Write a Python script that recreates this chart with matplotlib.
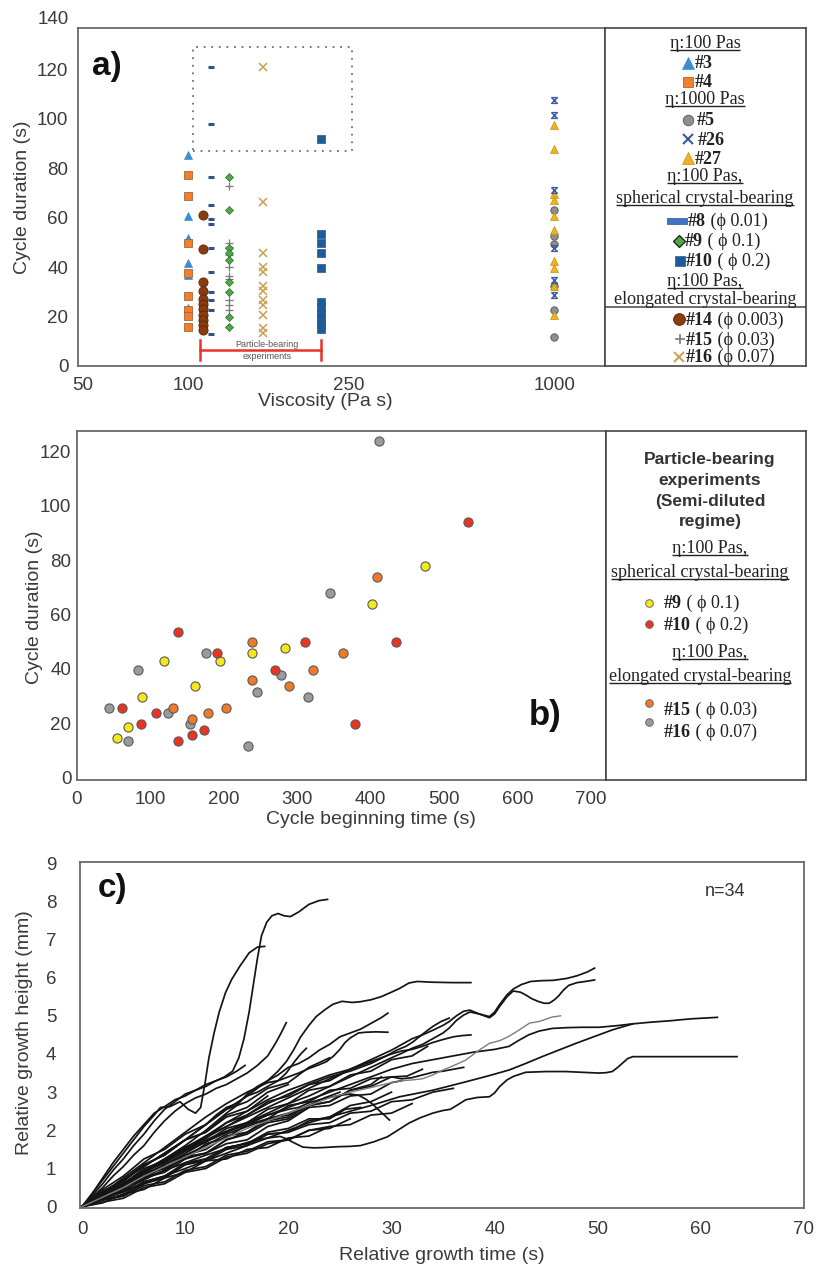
import matplotlib
matplotlib.use('Agg')
import matplotlib.pyplot as plt
from matplotlib.path import Path
from matplotlib.patches import Rectangle
import matplotlib.transforms as mtransforms

plt.rcParams['font.family'] = ['Liberation Sans', 'DejaVu Sans']

# ---------------- Panel a data (cycle duration, s) ----------------
VISC_TICK_LABELS = ['50', '100', '250', '1000']
EXP3_100 = [85.2, 60.8, 51.7, 41.7, 37.0, 23.5]
EXP4_100 = [77.4, 68.7, 49.7, 37.7, 28.4, 22.5, 20.2, 15.6]
EXP5_1000 = [63.0, 52.5, 49.5, 32.5, 22.5, 11.8]
EXP26_1000 = [107.4, 101.7, 71.1, 47.6, 34.9, 28.6]
EXP27_1000 = [97.3, 87.6, 69.5, 67.3, 60.5, 55.0, 42.4, 39.5, 32.5, 20.5]
EXP8 = [121.0, 97.7, 76.6, 65.2, 59.5, 57.3, 47.6, 38.0, 30.0, 26.5, 22.7, 12.9]
EXP9 = [76.6, 63.0, 47.6, 45.5, 43.0, 34.0, 30.0, 19.8, 15.6]
EXP10 = [91.9, 53.2, 49.6, 45.6, 39.8, 26.0, 24.0, 21.2, 19.2, 17.0, 15.0]
EXP14 = [61.0, 47.5, 34.0, 30.2, 27.2, 25.0, 23.0, 20.8, 18.5, 16.4, 14.4]
EXP15 = [72.6, 49.6, 48.0, 44.7, 40.2, 36.2, 35.0, 26.6, 24.5, 22.5]
EXP16 = [121.0, 66.5, 45.5, 40.0, 38.0, 32.4, 30.5, 26.6, 24.8, 20.6, 15.2, 13.2]

# ---------------- Panel b data ----------------
B_X_09 = [53.9, 69.3, 88.3, 117.8, 161.2, 194.3, 238.2, 283.5, 402.2, 474.2]
B_Y_09 = [14.6, 18.6, 29.7, 42.7, 33.6, 42.7, 45.7, 47.6, 63.8, 77.8]
B_X_10 = [61.6, 87.4, 107.3, 137.2, 137.2, 156.7, 173.5, 191.1, 269.9, 310.2, 378.6, 433.9, 531.8]
B_Y_10 = [25.6, 19.6, 23.6, 53.7, 13.5, 15.5, 17.6, 45.7, 39.6, 49.7, 19.6, 49.7, 93.9]
B_X_15 = [130.4, 156.7, 178.9, 202.9, 238.7, 238.7, 288.5, 322.0, 362.3, 408.0]
B_Y_15 = [25.6, 21.5, 23.6, 25.6, 49.7, 35.7, 33.6, 39.6, 45.7, 73.7]
B_X_16 = [43.5, 69.3, 83.3, 123.6, 154.4, 175.3, 232.3, 244.6, 277.2, 314.8, 344.2, 411.7]
B_Y_16 = [25.6, 13.5, 39.6, 23.6, 19.6, 45.7, 11.6, 31.6, 37.7, 29.7, 67.8, 123.9]

# ---------------- Panel c data: (time s, height mm) per growth curve ----------------
GROWTH_CURVES = [
    [(0,0),(1,0.3),(2,0.6),(3,0.95),(4,1.25),(5,1.6),(6,1.9),(7,2.25),(8,2.55),(9,2.75),(10,2.95),(11,3.05),(12,3.15),(13,3.3),(13.8,3.4),(14.6,3.55),(15.2,3.9),(15.7,4.4),(16.2,5.1),(16.6,5.8),(17.0,6.5),(17.4,7.1),(17.9,7.45),(18.4,7.62),(19.0,7.68),(19.6,7.62),(20.2,7.6),(21.0,7.72),(22.0,7.92),(23.0,8.02),(23.8,8.05)],
    [(0,0),(1,0.35),(2,0.7),(3,1.05),(4,1.4),(5,1.75),(6,2.1),(7,2.4),(7.6,2.6),(8.5,2.62),(9.5,2.75),(10.3,2.55),(11.0,2.45),(11.5,2.6),(11.9,3.2),(12.3,3.9),(12.8,4.55),(13.3,5.1),(13.9,5.6),(14.5,5.95),(15.3,6.3),(16.2,6.65),(17.0,6.8),(17.7,6.82)],
    [(0,0),(1,0.25),(2,0.5),(3,0.8),(4,1.05),(5,1.35),(6,1.6),(7,1.95),(8,2.25),(9,2.5),(10,2.7),(11,2.85),(12,2.95),(13,3.1),(14,3.2),(15,3.35),(16,3.5),(17,3.7),(18,3.95),(18.8,4.3),(19.3,4.55),(19.8,4.82)],
    [(0,0),(1,0.35),(2,0.75),(3,1.15),(4,1.5),(5,1.85),(6,2.15),(7,2.45),(8,2.62),(9,2.8),(10,2.9),(11,3.05),(12,3.2),(13,3.3),(14,3.4),(15,3.55),(15.8,3.7)],
    [(0,0),(2,0.35),(4,0.7),(6,1.05),(8,1.4),(10,1.75),(12,2.15),(13,2.4),(14,2.6),(15,2.7),(16,2.9),(17,3.0),(18,3.15),(19,3.3),(19.8,3.5),(20.6,3.8),(21.2,4.0),(21.75,4.15)],
    [(0,0),(2,0.3),(4,0.6),(6,0.9),(8,1.25),(10,1.6),(12,2.0),(14,2.45),(15,2.65),(16,2.95),(17,3.15),(18,3.3),(19,3.45),(20,3.65),(21,3.75),(22,3.9),(23,4.1),(24,4.25),(25,4.45),(26,4.55),(27,4.65),(28,4.8),(29,4.95),(29.65,5.07)],
    [(0,0),(2,0.35),(4,0.7),(6,1.05),(8,1.4),(10,1.75),(12,2.15),(14,2.55),(16,2.9),(17,3.1),(18,3.3),(19,3.55),(19.8,3.8),(20.5,4.1),(21.2,4.45),(22,4.75),(22.7,4.98),(23.5,5.15),(24.3,5.3),(25.2,5.38),(26.2,5.35),(27,5.37),(28,5.42),(29,5.5),(30,5.62),(30.8,5.72),(31.7,5.86),(32.5,5.9),(34,5.88),(36,5.87),(37.7,5.87)],
    [(0,0),(2,0.35),(4,0.75),(6,1.15),(8,1.55),(10,1.95),(12,2.35),(14,2.7),(16,3.0),(18,3.25),(19,3.3),(20,3.4),(21,3.5),(22,3.62),(23,3.72),(23.7,3.8),(24.4,3.95),(25,4.12),(25.5,4.3),(26,4.42),(26.8,4.55),(27.5,4.57),(28.5,4.58),(29.65,4.57)],
    [(0,0),(2,0.3),(4,0.6),(6,0.92),(8,1.2),(10,1.48),(12,1.75),(14,1.98),(16,2.2),(18,2.4),(20,2.55),(21,2.6),(22,2.72),(23,2.8),(24,2.86),(25,2.92),(26,2.95),(26.8,2.92),(27.5,2.82),(28.2,2.68),(28.8,2.52),(29.3,2.4),(29.8,2.27)],
    [(0,0),(2,0.3),(4,0.6),(6,0.95),(8,1.25),(10,1.55),(12,1.85),(14,2.1),(16,2.35),(18,2.6),(20,2.85),(22,3.1),(24,3.35),(26,3.6),(28,3.85),(30,4.1),(31,4.25),(32,4.4),(33,4.5),(34,4.62),(35,4.75),(35.6,4.85),(36.3,5.0),(37,5.12),(37.6,5.15),(38.5,5.05),(39.5,4.98),(40.0,5.1),(40.5,5.3),(41.2,5.55),(41.8,5.7),(42.6,5.82),(43.5,5.9),(44.5,5.92),(45.7,5.93),(47,5.98),(48,6.05),(49,6.15),(49.7,6.25)],
    [(0,0),(2,0.25),(4,0.55),(6,0.85),(8,1.1),(10,1.4),(12,1.7),(14,1.95),(16,2.2),(18,2.45),(20,2.7),(22,2.9),(24,3.15),(26,3.4),(28,3.65),(30,3.9),(31,4.02),(32,4.15),(33,4.25),(34,4.4),(35,4.55),(35.6,4.68),(36.3,4.88),(37,5.02),(37.6,5.1),(38.5,5.05),(39.5,4.95),(40.0,5.05),(40.5,5.25),(41.2,5.5),(41.8,5.65),(42.5,5.62),(43,5.55),(43.6,5.45),(44.2,5.38),(44.8,5.33),(45.3,5.33),(45.8,5.42),(46.2,5.52),(46.7,5.68),(47.2,5.8),(48,5.87),(48.8,5.9),(49.7,5.94)],
    [(0,0),(2,0.25),(4,0.5),(6,0.8),(8,1.05),(10,1.3),(12,1.55),(14,1.8),(16,2.05),(18,2.25),(20,2.45),(22,2.65),(24,2.85),(26,3.0),(28,3.12),(30,3.25),(31,3.3),(32,3.32),(33,3.35),(34,3.45),(35,3.58),(35.9,3.68),(37.2,3.84),(38.5,4.1),(39.5,4.28),(40.5,4.35),(41.3,4.45),(42.1,4.58),(43.4,4.81),(44.3,4.85),(45.6,4.97),(46.4,5.0)],
    [(0,0),(2,0.3),(4,0.6),(6,0.9),(8,1.15),(10,1.45),(12,1.7),(14,1.95),(16,2.15),(18,2.4),(20,2.6),(22,2.8),(24,3.0),(26,3.2),(28,3.4),(30,3.6),(32,3.75),(34,3.85),(36,3.95),(38,4.05),(40,4.12),(41.4,4.2),(42.3,4.35),(43.3,4.5),(44.3,4.6),(45.6,4.67),(47,4.69),(48.5,4.7),(50.1,4.7),(51.8,4.74),(53.4,4.79),(55,4.83),(57,4.87),(59,4.92),(61.6,4.96)],
    [(0,0),(2,0.2),(4,0.45),(6,0.7),(7.5,0.9),(9,1.05),(10.5,1.2),(12,1.35),(13.5,1.48),(15,1.6),(16,1.68),(17,1.75),(18,1.8),(19.2,1.84),(19.8,1.78),(20.5,1.68),(21.4,1.56),(22.5,1.54),(23.5,1.55),(24.7,1.57),(26,1.58),(27,1.6),(28.3,1.7),(29.6,1.83),(30.6,2.0),(31.7,2.19),(32.8,2.33),(34,2.45),(35,2.52),(35.7,2.55),(36.5,2.68),(37.2,2.8),(38.3,2.86),(39.5,2.88),(40.0,2.98),(40.5,3.15),(41.2,3.32),(41.8,3.41),(43,3.52),(45,3.54),(46.9,3.54),(48.5,3.52),(50.1,3.5),(50.8,3.51),(51.4,3.54),(51.9,3.64),(52.4,3.76),(52.9,3.88),(53.4,3.93),(55,3.93),(58,3.93),(63.5,3.93)],
    [(0,0),(2,0.2),(4,0.4),(6,0.6),(8,0.8),(10,1.0),(12,1.2),(14,1.4),(16,1.6),(18,1.8),(20,2.0),(22,2.2),(24,2.35),(26,2.5),(28,2.65),(30.8,2.88),(34,3.05),(37.2,3.27),(39.3,3.42),(41.4,3.58),(43,3.75),(44.6,3.93),(46.2,4.1),(47.9,4.28),(49.6,4.45),(51.4,4.63),(53.4,4.79)],
    [(0,0),(2,0.3),(4,0.6),(6,0.9),(8,1.2),(10,1.5),(12,1.85),(14,2.2),(16,2.5),(18,2.8),(20,3.05),(22,3.25),(24,3.45),(26,3.6),(28,3.8),(30,4.0),(31,4.08),(32,4.12),(33,4.2),(34,4.3),(35,4.38),(36,4.45),(36.8,4.48),(37.7,4.5)],
    [(0,0),(2,0.3),(4,0.6),(6,0.9),(8,1.2),(10,1.5),(12,1.8),(14,2.1),(16,2.4),(18,2.7),(20,2.95),(22,3.2),(24,3.4),(26,3.55),(28,3.75),(29.5,3.95),(30.5,4.1),(31.4,4.2),(32.1,4.32),(32.7,4.45),(33.4,4.6),(34,4.72),(34.8,4.85),(35.6,4.94)],
    [(0,0),(2,0.3),(4,0.55),(5,0.72),(6,0.8),(7,0.95),(8,1.1),(10,1.35),(12,1.6),(13,1.75),(14,1.9),(16,2.1),(18,2.3),(20,2.45),(22,2.65),(23.5,2.85),(25,3.0)],
    [(0,0),(2,0.18),(4,0.28),(6,0.6),(8,0.75),(10,1.1),(12,1.25),(14,1.55),(16,1.65),(18,1.95),(20,2.05),(22,2.3),(24,2.3),(25.5,2.55),(27,2.6)],
    [(0,0),(2,0.25),(4,0.4),(6,0.75),(8,0.95),(10,1.3),(12,1.4),(14,1.65),(16,1.75),(18,2.1),(20,2.25),(22,2.6),(24,2.65),(26,2.9),(28,2.95),(30,3.25),(31,3.3)],
    [(0,0),(2,0.3),(4,0.5),(6,0.9),(8,1.0),(10,1.3),(12,1.4),(14,1.75),(16,1.95),(18,2.3),(20,2.4),(22,2.65),(24,2.75),(26,3.05),(28,3.15),(30,3.4),(31.5,3.42),(33,3.6)],
    [(0,0),(2,0.4),(4,0.7),(6,1.1),(8,1.35),(10,1.75),(12,1.95),(14,2.4),(16,2.6),(18,3.0),(20,3.2)],
    [(0,0),(2,0.45),(4,0.8),(6,1.25),(8,1.5),(10,1.9),(12,2.15),(14,2.55),(16,2.75),(18,3.1),(20,3.25),(22,3.65),(24,3.9)],
    [(0,0),(2,0.25),(4,0.5),(6,0.75),(8,1.05),(10,1.25),(12,1.65),(14,1.8),(16,2.15),(18,2.3),(20,2.65),(22,2.75),(24,3.05),(26,3.1),(28,3.35),(30,3.4),(31,3.35),(32,3.38),(33,3.45),(34,3.52),(35,3.55),(36,3.6),(37,3.65)],
    [(0,0),(2,0.22),(4,0.38),(6,0.65),(8,0.8),(10,1.15),(12,1.25),(14,1.55),(16,1.65),(18,1.9),(20,1.95),(22,2.15),(24,2.2),(26,2.45),(28,2.5),(30,2.75),(32,2.8),(34,3.0),(36,3.1)],
    [(0,0),(2,0.18),(4,0.32),(6,0.65),(8,0.8),(10,1.1),(12,1.2),(14,1.5),(16,1.6),(18,1.9),(20,1.95),(22,2.25),(24,2.35),(26,2.65),(28,2.75),(30,3.0)],
    [(0,0),(2,0.35),(4,0.55),(6,0.95),(8,1.15),(10,1.55),(12,1.8),(14,2.2),(16,2.4),(18,2.75),(20,2.9),(22,3.2),(24,3.3),(26,3.6),(28,3.8)],
    [(0,0),(2,0.25),(4,0.4),(6,0.75),(8,0.9),(10,1.25),(12,1.4),(14,1.75),(16,1.9),(18,2.2),(20,2.3),(22,2.6)],
    [(0,0),(2,0.12),(4,0.22),(6,0.5),(8,0.6),(10,0.9),(12,1.0),(14,1.3),(16,1.4),(18,1.65),(20,1.75),(22,2.0),(24,2.05),(26,2.3)],
    [(0,0),(2,0.1),(4,0.33),(6,0.45),(8,0.75),(10,0.9),(12,1.2),(14,1.25),(16,1.5),(18,1.55),(20,1.8),(22,1.85),(24,2.1),(26,2.15),(28,2.4),(30,2.45),(32,2.7)],
    [(0,0),(2,0.4),(4,0.65),(6,1.1),(8,1.35),(10,1.75),(12,1.95),(14,2.35),(16,2.5),(18,2.9)],
    [(0,0),(2,0.32),(4,0.5),(6,0.85),(8,1.0),(10,1.35),(12,1.5),(14,1.85),(16,1.95),(18,2.25),(20,2.35),(22,2.65),(24,2.75),(26,3.05),(28,3.2),(29,3.4)],
    [(0,0),(2,0.17),(4,0.28),(6,0.55),(8,0.65),(10,0.95),(12,1.05),(14,1.35),(16,1.45),(18,1.7),(20,1.75),(22,2.0),(24,2.1)],
    [(0,0),(2,0.38),(4,0.6),(6,1.0),(8,1.2),(10,1.55),(12,1.7),(14,2.05),(16,2.2),(18,2.55),(20,2.7),(22,3.05),(24,3.15),(26,3.45),(28,3.55),(30,3.85),(32,3.95),(33.5,4.2)],
]
GRAY_CURVE_INDEX = 11

# ---------------- figure & helpers ----------------
W, H = 816, 1267
fig = plt.figure(figsize=(W / 100, H / 100), dpi=100)
renderer = fig.canvas.get_renderer()

SPINE = '#6a6a6a'
TXT = '#222222'
TICKC = '#3a3a3a'
SERIF = ['Liberation Serif', 'DejaVu Serif']


def fbox(l, t, r, b):
    return [l / W, 1 - b / H, (r - l) / W, (b - t) / H]


def style_axes(ax, ypad, xpad):
    for sp in ax.spines.values():
        sp.set_color(SPINE)
        sp.set_linewidth(1.3)
    ax.tick_params(axis='both', length=0, labelsize=13.5, labelcolor=TICKC)
    ax.tick_params(axis='y', pad=ypad)
    ax.tick_params(axis='x', pad=xpad)


def legend_axes(l, t, r, b):
    ax = fig.add_axes(fbox(l, t, r, b))
    ax.set_xlim(l, r)
    ax.set_ylim(b, t)
    ax.set_xticks([])
    ax.set_yticks([])
    for sp in ax.spines.values():
        sp.set_color('#444444')
        sp.set_linewidth(1.2)
    return ax


def under_text(ax, xc, yb, s, size=13):
    t = ax.text(xc, yb, s, fontsize=size, family=SERIF, ha='center', va='baseline', color=TXT)
    w = t.get_window_extent(renderer).width
    ax.plot([xc - w / 2, xc + w / 2], [yb + 2.3, yb + 2.3], color=TXT, lw=1.0,
            solid_capstyle='butt')


def rich(ax, x, yb, parts, size=13):
    cur = x
    for s, bold in parts:
        t = ax.text(cur, yb, s, fontsize=size, family=SERIF,
                    fontweight='bold' if bold else 'normal',
                    ha='left', va='baseline', color=TXT)
        cur += t.get_window_extent(renderer).width


HOURGLASS = Path([(-1, 1), (1, 1), (-1, -1), (1, -1), (-1, 1)],
                 [Path.MOVETO, Path.LINETO, Path.LINETO, Path.LINETO, Path.LINETO])
WIDEBAR = Path([(-1, -0.3), (1, -0.3), (1, 0.3), (-1, 0.3), (-1, -0.3)],
               [Path.MOVETO, Path.LINETO, Path.LINETO, Path.LINETO, Path.CLOSEPOLY])

STY = {
    '3': dict(marker='^', color='#3C8DD0', mec='#3C8DD0', ms=5.8, mew=0.5),
    '4': dict(marker='s', color='#F0802E', mec='#A9653A', ms=5.3, mew=0.6),
    '5': dict(marker='o', color='#8E8F93', mec='#5E5E5E', ms=5.3, mew=0.7),
    '26': dict(marker=HOURGLASS, color='#3A5BA0', mfc='none', mec='#3A5BA0', ms=4.2, mew=1.0),
    '27': dict(marker='^', color='#F2B11F', mec='#C48F12', ms=5.8, mew=0.5),
    '8': dict(marker='_', color='#33508F', mec='#33508F', ms=4.5, mew=2.2),
    '9': dict(marker='D', color='#4EAA45', mec='#2D6A28', ms=4.2, mew=0.5),
    '10': dict(marker='s', color='#1E5B98', mec='#1E5B98', ms=5.6, mew=0.5),
    '14': dict(marker='o', color='#8A3B0F', mec='#5A2608', ms=6.6, mew=0.6),
    '15': dict(marker='+', color='#7A7A7A', mec='#7A7A7A', ms=6.0, mew=0.9),
    '16': dict(marker='x', color='#C9A050', mec='#C9A050', ms=5.3, mew=1.1),
}

# ================= Panel a =================
ax_a = fig.add_axes(fbox(78, 28, 605, 366))
ax_a.set_xlim(0, 527)
ax_a.set_ylim(0, 136.7)
X_TICK_POS = [5, 110, 271, 477]
ax_a.set_xticks(X_TICK_POS)
ax_a.set_xticklabels(VISC_TICK_LABELS)
ax_a.set_yticks(range(0, 121, 20))
style_axes(ax_a, ypad=7, xpad=8)
ax_a.text(-0.017, 140, '140', transform=mtransforms.blended_transform_factory(ax_a.transAxes, ax_a.transData),
          ha='right', va='center', fontsize=13.5, color=TICKC, clip_on=False)

POS_100, POS_14, POS_8, POS_9_15, POS_16, POS_10, POS_1000 = 110, 124.7, 133, 151, 184.7, 242.7, 476


def col(ax, x, ys, key, z=3):
    ax.plot([x] * len(ys), ys, ls='none', zorder=z, **STY[key])


col(ax_a, POS_100, EXP3_100, '3')
col(ax_a, POS_100, EXP4_100, '4', z=4)
col(ax_a, POS_14, EXP14, '14')
col(ax_a, POS_8, EXP8, '8')
col(ax_a, POS_9_15, EXP15, '15')
col(ax_a, POS_9_15, EXP9, '9', z=4)
col(ax_a, POS_16, EXP16, '16')
col(ax_a, POS_10, EXP10, '10')
col(ax_a, POS_1000, EXP5_1000, '5')
col(ax_a, POS_1000, EXP27_1000, '27', z=4)
col(ax_a, POS_1000, EXP26_1000, '26', z=5)

# particle-bearing bracket
BR_L, BR_R, BR_Y = 122, 243, 6.4
ax_a.plot([BR_L, BR_R], [BR_Y, BR_Y], color='#E8322A', lw=1.8, zorder=2)
ax_a.plot([BR_L, BR_L], [2.4, 10.6], color='#E8322A', lw=1.8, zorder=2)
ax_a.plot([BR_R, BR_R], [2.4, 10.6], color='#E8322A', lw=1.8, zorder=2)
ax_a.text(189, 8.7, 'Particle-bearing', ha='center', va='center', fontsize=6.5, color='#555555', zorder=3)
ax_a.text(189, 4.0, 'experiments', ha='center', va='center', fontsize=6.5, color='#555555', zorder=3)
# dotted inset box
ax_a.add_patch(Rectangle((114.7, 87.0), 159.6, 42.2, fill=False, ec='#707070',
                         lw=1.3, ls=(0, (1, 3.2))))

fig.text(107 / W, 1 - 67 / H, 'a)', ha='center', va='center', fontsize=24, fontweight='bold', color='#111111')
fig.text(23 / W, 1 - 197 / H, 'Cycle duration (s)', rotation=90, ha='center', va='center', fontsize=14, color=TICKC)
fig.text(325 / W, 1 - 401 / H, 'Viscosity (Pa s)', ha='center', va='center', fontsize=14, color=TICKC)

# legend a
la = legend_axes(605, 28, 806, 366)


def lm(ax, x, y, key, **extra):
    kw = dict(STY[key])
    kw.update(extra)
    ax.plot([x], [y], ls='none', **kw)


under_text(la, 705, 48, 'η:100 Pas')
lm(la, 688, 63, '3', ms=8)
rich(la, 695, 68, [('#3', True)])
lm(la, 688, 82, '4', ms=7.5)
rich(la, 695, 87, [('#4', True)])
under_text(la, 705, 104, 'η:1000 Pas')
lm(la, 688, 120, '5', ms=7.5)
rich(la, 697, 125, [('#5', True)])
lm(la, 688, 139, '26', marker='x', ms=6.5, mew=1.5)
rich(la, 698, 145, [('#26', True)])
lm(la, 688, 158, '27', ms=8)
rich(la, 695, 164, [('#27', True)])
under_text(la, 705, 181, 'η:100 Pas,')
under_text(la, 705, 203, 'spherical crystal-bearing')
la.plot([677], [221], ls='none', marker=WIDEBAR, ms=15, mfc='#4472C4', mec='#2F528F', mew=0.5)
rich(la, 688, 226, [('#8', True), (' (ϕ 0.01)', False)])
lm(la, 679, 241, '9', ms=6.5, mec='#1a1a1a', mew=0.9)
rich(la, 685, 246, [('#9', True), (' ( ϕ 0.1)', False)])
lm(la, 680, 261, '10', ms=7)
rich(la, 686, 266, [('#10', True), (' ( ϕ 0.2)', False)])
under_text(la, 705, 286, 'η:100 Pas,')
la.text(705, 304, 'elongated crystal-bearing', fontsize=13, family=SERIF, ha='center', va='baseline', color=TXT)
la.plot([605, 806], [307, 307], color='#444444', lw=1.1)
lm(la, 679, 319, '14', ms=8.5)
rich(la, 686, 325, [('#14', True), (' (ϕ 0.003)', False)])
lm(la, 680, 339, '15', ms=7.5, mew=1.2)
rich(la, 686, 345, [('#15', True), (' (ϕ 0.03)', False)])
lm(la, 679, 357, '16', ms=7, mew=1.4)
rich(la, 686, 362, [('#16', True), (' (ϕ 0.07)', False)])

# ================= Panel b =================
ax_b = fig.add_axes(fbox(77, 431, 605.7, 780))
ax_b.set_xlim(0, 720)
ax_b.set_ylim(-1, 127.6)
ax_b.set_xticks(range(0, 701, 100))
ax_b.set_yticks(range(0, 121, 20))
style_axes(ax_b, ypad=4, xpad=8)

C09, C10, C15, C16 = '#F4E71A', '#EC3323', '#EF7A2A', '#9A9A9F'
bkw = dict(ls='none', marker='o', ms=6.6, mec='#5a5a5a', mew=0.8)
ax_b.plot(B_X_16, B_Y_16, mfc=C16, **bkw)
ax_b.plot(B_X_09, B_Y_09, mfc=C09, **bkw)
ax_b.plot(B_X_10, B_Y_10, mfc=C10, **bkw)
ax_b.plot(B_X_15, B_Y_15, mfc=C15, **bkw)

fig.text(545 / W, 1 - 715 / H, 'b)', ha='center', va='center', fontsize=25, fontweight='bold', color='#111111')
fig.text(35 / W, 1 - 607 / H, 'Cycle duration (s)', rotation=90, ha='center', va='center', fontsize=14, color=TICKC)
fig.text(371 / W, 1 - 819 / H, 'Cycle beginning time (s)', ha='center', va='center', fontsize=14, color=TICKC)

lb = legend_axes(605.7, 431, 806, 780)
for yb, s in [(464, 'Particle-bearing'), (485, 'experiments'), (506, '(Semi-diluted'), (526, 'regime)')]:
    lb.text(710, yb, s, fontsize=12.5, fontweight='bold', ha='center', va='baseline', color='#333333')
under_text(lb, 710, 553, 'η:100 Pas,')
under_text(lb, 700, 577, 'spherical crystal-bearing')
lkw = dict(ls='none', marker='o', ms=5.5, mec='#6a6a6a', mew=0.7)
lb.plot([649], [603], mfc=C09, **lkw)
rich(lb, 664, 608, [('#9', True), (' ( ϕ 0.1)', False)])
lb.plot([649], [624], mfc=C10, **lkw)
rich(lb, 664, 630, [('#10', True), (' ( ϕ 0.2)', False)])
under_text(lb, 710, 657, 'η:100 Pas,')
under_text(lb, 700, 681, 'elongated crystal-bearing')
lb.plot([649], [703], mfc=C15, **lkw)
rich(lb, 664, 715, [('#15', True), (' ( ϕ 0.03)', False)])
lb.plot([649], [722], mfc=C16, **lkw)
rich(lb, 664, 737, [('#16', True), (' ( ϕ 0.07)', False)])

# ================= Panel c =================
ax_c = fig.add_axes(fbox(80, 862, 804, 1208))
ax_c.set_xlim(-0.2, 69.9)
ax_c.set_ylim(-0.035, 9.03)
ax_c.set_xticks(range(0, 71, 10))
ax_c.set_yticks(range(0, 10))
style_axes(ax_c, ypad=17, xpad=9)
for i, curve in enumerate(GROWTH_CURVES):
    t, h = zip(*curve)
    if i == GRAY_CURVE_INDEX:
        ax_c.plot(t, h, color='#7d7d7d', lw=1.0, zorder=3, solid_joinstyle='round')
    else:
        ax_c.plot(t, h, color='#141414', lw=1.25, zorder=2, solid_joinstyle='round')

fig.text(725 / W, 1 - 892 / H, 'n=34', fontsize=13, color='#333333', ha='center', va='center')
fig.text(112 / W, 1 - 888 / H, 'c)', ha='center', va='center', fontsize=24, fontweight='bold', color='#111111')
fig.text(25 / W, 1 - 1033 / H, 'Relative growth height (mm)', rotation=90, ha='center', va='center', fontsize=14, color=TICKC)
fig.text(442 / W, 1 - 1255 / H, 'Relative growth time (s)', ha='center', va='center', fontsize=14, color=TICKC)

fig.savefig('out.png', dpi=100)
